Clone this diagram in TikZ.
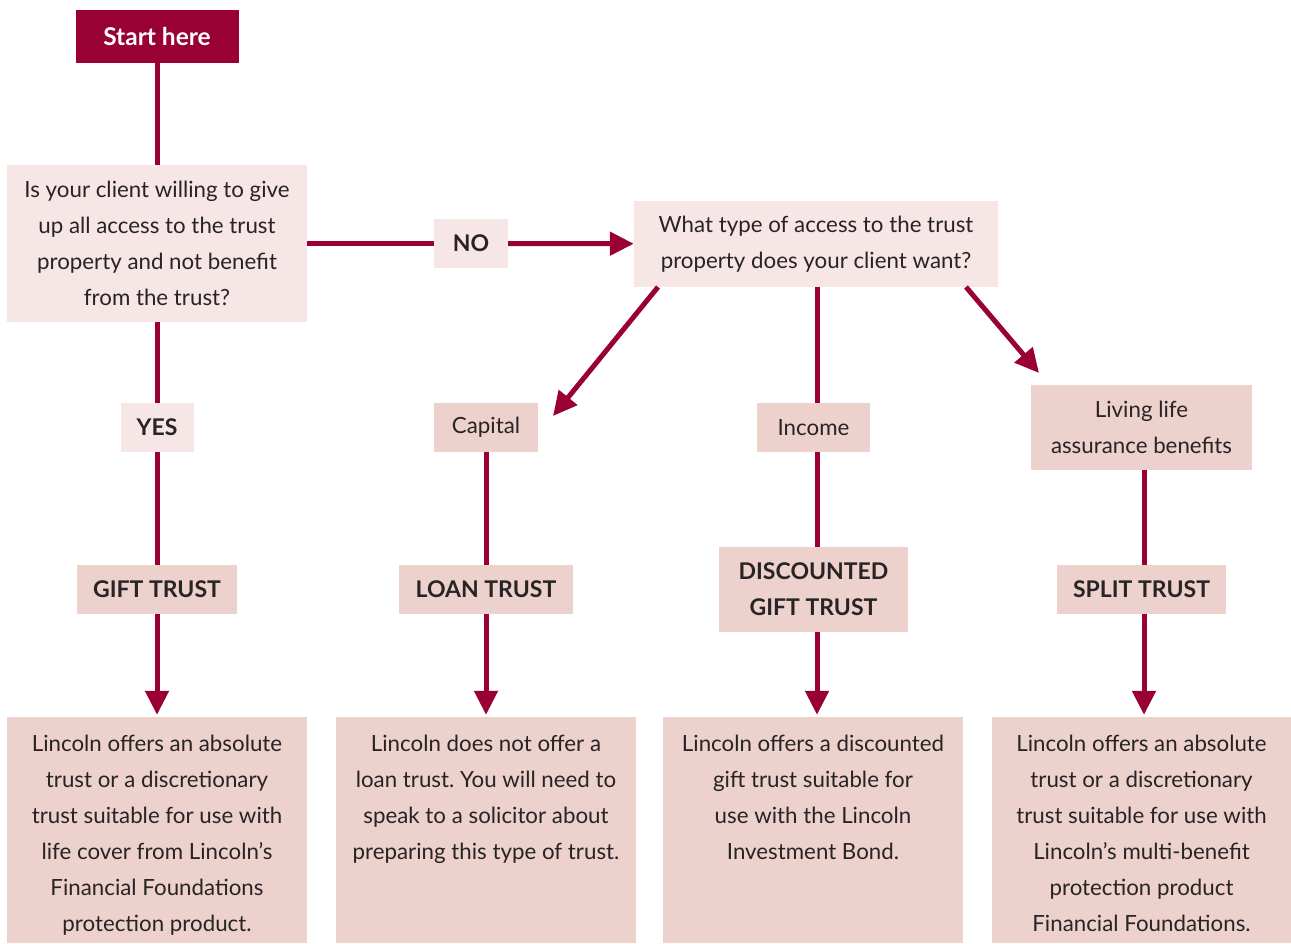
\documentclass[tikz,border=0pt]{standalone}
\usepackage{fontspec}
\setmainfont{Lato}
\usetikzlibrary{arrows.meta}
\definecolor{wine}{RGB}{153,0,51}
\definecolor{palepink}{RGB}{246,230,230}
\definecolor{rosepink}{RGB}{236,209,205}
\definecolor{inkgray}{RGB}{40,36,37}
\frenchspacing

\begin{document}
\begin{tikzpicture}[x=1pt,y=-1pt,line cap=butt,
  >={Triangle[length=24pt,width=23pt]},
  txt/.style={font=\fontsize{22.3}{36}\selectfont,text=inkgray,align=center,inner sep=0pt},
  bold/.style={font=\fontsize{23}{36}\selectfont\bfseries,text=inkgray,align=center,inner sep=0pt},
  pale/.style={fill=palepink},
  rose/.style={fill=rosepink},
  link/.style={draw=wine,line width=5pt},
  arrowlink/.style={link,->,shorten >=2pt}]
\useasboundingbox (0,0) rectangle (1291,943);

%start and the first question
\node[fill=wine,text=white,font=\fontsize{24.5}{26}\selectfont\bfseries,minimum width=163pt,minimum height=53pt,inner sep=0pt] (start) at (157,36.5) {Start here};
\node[txt,pale,minimum width=300pt,minimum height=157pt] (q1) at (157,243.5) {Is your client willing to give\\up all access to the trust\\property and not benefit\\from the trust?};
\node[bold,pale,minimum width=74pt,minimum height=49pt] (no) at (471,243.5) {NO};
\node[txt,pale,minimum width=364pt,minimum height=86pt] (q2) at (816,244) {What type of access to the trust\\property does your client want?};

%answers
\node[bold,pale,minimum width=73pt,minimum height=49pt] (yes) at (157,427.5) {YES};
\node[txt,rose,minimum width=104pt,minimum height=49pt] (capital) at (486,427.5) {Capital};
\node[txt,rose,minimum width=113pt,minimum height=49pt] (income) at (813.5,427.5) {Income};
\node[txt,rose,minimum width=221pt,minimum height=85pt] (living) at (1141.5,427.5) {Living life\\assurance benefits};

%trust types
\node[bold,rose,minimum width=160pt,minimum height=49pt] (gift) at (157,589.5) {GIFT TRUST};
\node[bold,rose,minimum width=174pt,minimum height=49pt] (loan) at (486,589.5) {LOAN TRUST};
\node[bold,rose,minimum width=189pt,minimum height=85pt] (disc) at (813.5,589.5) {DISCOUNTED\\GIFT TRUST};
\node[bold,rose,minimum width=169pt,minimum height=49pt] (split) at (1141.5,589.5) {SPLIT TRUST};

%outcome boxes
\foreach \n/\x in {1/157,2/486,3/813,4/1141.5}
  \node[rose,minimum width=300pt,minimum height=226pt,inner sep=0pt] (box\n) at (\x,830) {};
\node[txt,anchor=north] (out1) at ([yshift=-18pt]box1.north) {Lincoln offers an absolute\\trust or a discretionary\\trust suitable for use with\\life cover from Lincoln’s\\Financial Foundations\\protection product.};
\node[txt,anchor=north] (out2) at ([yshift=-18pt]box2.north) {Lincoln does not offer a\\loan trust. You will need to\\speak to a solicitor about\\preparing this type of trust.};
\node[txt,anchor=north] (out3) at ([yshift=-18pt]box3.north) {Lincoln offers a discounted\\gift trust suitable for\\use with the Lincoln\\Investment Bond.};
\node[txt,anchor=north] (out4) at ([yshift=-18pt]box4.north) {Lincoln offers an absolute\\trust or a discretionary\\trust suitable for use with\\Lincoln’s multi-benefit\\protection product\\Financial Foundations.};

%connectors
\coordinate (capfrom) at (658,287);
\coordinate (captip) at (553,416);
\coordinate (livfrom) at (966,287);
\coordinate (livtip) at (1039,373);
\coordinate (midline) at (817,0);
\coordinate (splitline) at (1144,0);
\draw[link] (start) -- (q1);
\draw[link] (q1) -- (no);
\draw[arrowlink,shorten >=0pt] (no) -- (q2);
\draw[link] (q1) -- (yes);
\draw[link] (yes) -- (gift);
\draw[arrowlink] (gift) -- (box1.north -| gift);
\draw[arrowlink,shorten >=0pt] (capfrom) -- (captip);
\draw[link] (capital) -- (loan);
\draw[arrowlink] (loan) -- (box2.north -| loan);
\draw[link] (q2.south -| midline) -- (income.north -| midline);
\draw[link] (income.south -| midline) -- (disc.north -| midline);
\draw[arrowlink] (disc.south -| midline) -- (box3.north -| midline);
\draw[arrowlink,shorten >=0pt] (livfrom) -- (livtip);
\draw[link] (living.south -| splitline) -- (split.north -| splitline);
\draw[arrowlink] (split.south -| splitline) -- (box4.north -| splitline);
\end{tikzpicture}
\end{document}
